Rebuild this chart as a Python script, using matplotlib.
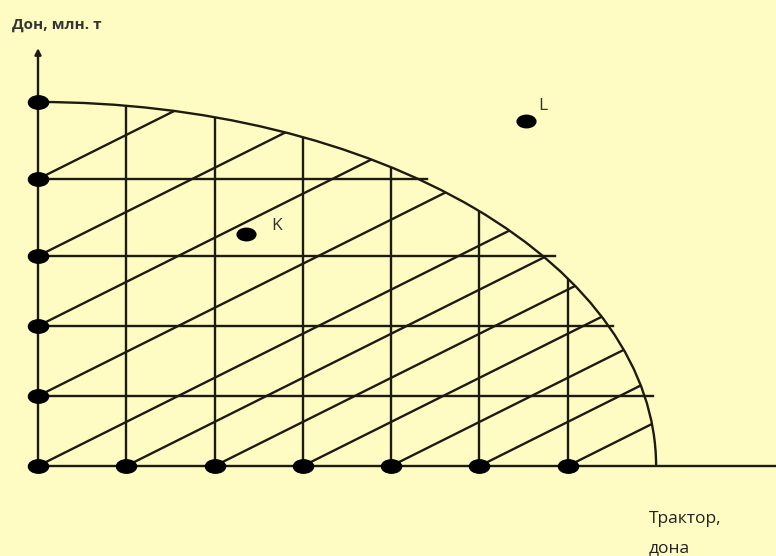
import matplotlib
matplotlib.use("Agg")
import matplotlib.pyplot as plt
from matplotlib.patches import Arc, Ellipse
from matplotlib.path import Path
from matplotlib.transforms import Affine2D

# -------------------------
# DATA (production possibility frontier)
# -------------------------
x_max = 7.0      # Трактор, дона
y_max = 5.2      # Дон, млн. т
y_arrow = 5.97

grid_x = [1, 2, 3, 4, 5, 6]
grid_y = [1, 2, 3, 4.1]
grid_y_end = [6.96, 6.51, 5.85, 4.41]

dots_x = [0, 1, 2, 3, 4, 5, 6, 0, 0, 0, 0, 0]
dots_y = [0, 0, 0, 0, 0, 0, 0, 1, 2, 3, 4.1, 5.2]

hatch_x0 = [0, 0, 0, 0, 0, 1, 2, 3, 4, 5, 6]
hatch_y0 = [4.1, 3, 2, 1, 0, 0, 0, 0, 0, 0, 0]
hatch_slope = 0.63

point_names = ["K", "L"]
point_x = [2.36, 5.53]
point_y = [3.31, 4.93]

# -------------------------
# STYLE
# -------------------------
bg = "#FFFCC3"
ink = "#1d1b10"
lw = 1.7
plt.rcParams['font.family'] = ['Open Sans', 'DejaVu Sans']

egg = Affine2D().scale(1.5, 1.0).transform_path(Path.unit_circle())

fig = plt.figure(figsize=(7.76, 5.56), dpi=100, facecolor=bg)
ax = fig.add_axes([0, 0, 1, 1])
ax.set_xlim(-38 / 88.3, 738 / 88.3)
ax.set_ylim(-90 / 70, 466 / 70)
ax.axis('off')

# frontier
ax.add_patch(Arc((0, 0), 2 * x_max, 2 * y_max, theta1=0, theta2=90,
                 color=ink, lw=lw))
clip = Ellipse((0, 0), 2 * x_max, 2 * y_max, transform=ax.transData)

# axes
ax.plot([0, 8.5], [0, 0], color=ink, lw=lw, solid_capstyle='butt')
ax.annotate('', xy=(0, y_arrow), xytext=(0, 0),
            arrowprops=dict(arrowstyle='-|>', color=ink, lw=lw,
                            mutation_scale=9, shrinkA=0, shrinkB=0))

# grid
for gx in grid_x:
    ln, = ax.plot([gx, gx], [0, y_max], color=ink, lw=lw)
    ln.set_clip_path(clip)
for gy, ge in zip(grid_y, grid_y_end):
    ax.plot([0, ge], [gy, gy], color=ink, lw=lw)

# hatching
for hx, hy in zip(hatch_x0, hatch_y0):
    ln, = ax.plot([hx, hx + 10], [hy, hy + 10 * hatch_slope], color=ink, lw=lw)
    ln.set_clip_path(clip)

# dots
ax.plot(dots_x, dots_y, linestyle='none', marker=egg, ms=14.5,
        color='black', zorder=5)
ax.plot(point_x, point_y, linestyle='none', marker=egg, ms=13.5,
        color='black', zorder=5)
label_off = [(22, 6), (12, 11)]
for name, px, py, off in zip(point_names, point_x, point_y, label_off):
    ax.annotate(name, (px, py), xytext=off, textcoords='offset points',
                ha='center', va='center', fontsize=12.5, color='#333333')

# titles
ax.text(-0.294, 6.25, "Дон, млн. т", fontsize=11, fontweight='bold',
        color='#333333', ha='left', va='baseline')
ax.text(6.92, -0.814, "Трактор,", fontsize=12.5, color='#222222',
        ha='left', va='baseline')
ax.text(6.92, -1.229, "дона", fontsize=12.5, color='#222222',
        ha='left', va='baseline')

fig.savefig("out.png", dpi=100, facecolor=bg)
